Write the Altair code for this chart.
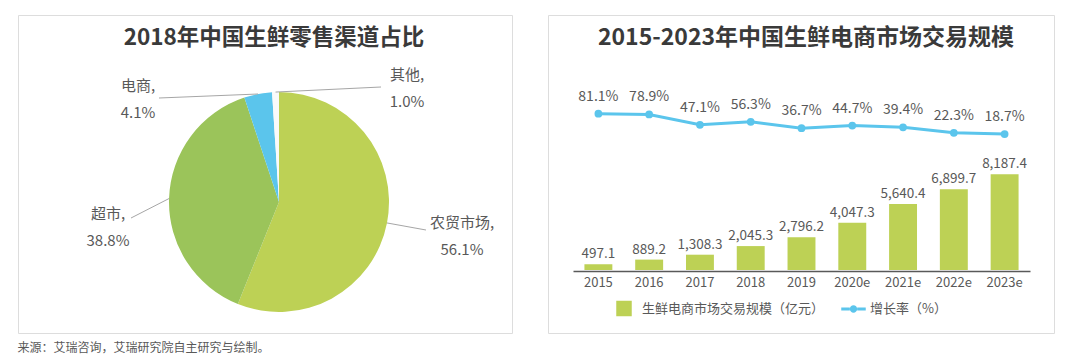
import math
import altair as alt
import pandas as pd

# ---------------- data ----------------
channels = ["农贸市场", "超市", "电商", "其他"]
shares = [56.1, 38.8, 4.1, 1.0]

years = ["2015", "2016", "2017", "2018", "2019", "2020e", "2021e", "2022e", "2023e"]
market_size = [497.1, 889.2, 1308.3, 2045.3, 2796.2, 4047.3, 5640.4, 6899.7, 8187.4]
growth_rate = [81.1, 78.9, 47.1, 56.3, 36.7, 44.7, 39.4, 22.3, 18.7]

left_title = "2018年中国生鲜零售渠道占比"
right_title = "2015-2023年中国生鲜电商市场交易规模"
bar_name = "生鲜电商市场交易规模（亿元）"
line_name = "增长率（%）"
source_text = "来源：艾瑞咨询，艾瑞研究院自主研究与绘制。"

# ---------------- style ----------------
FONT = "Noto Sans CJK SC"
BG = "#f2f2f2"
TXT = "#595959"
TITLE_C = "#3a3a3a"
pie_colors = ["#bdd155", "#9bc45a", "#5bc5ec", "#fafafa"]
BAR_C = "#bdd155"
LINE_C = "#5bc5ec"

W1, W2, H = 494, 506, 318
PIE_CX, PIE_CY, PIE_R = 261, 187, 110

# label anchor (center x, first-line y) and leader end point, panel coords
label_anchor = {
    "农贸市场": (444, 208, 408, 215),
    "超市": (90, 199, 113, 203),
    "电商": (120, 71, 141, 83),
    "其他": (389, 60, 363, 72),
}
LINE_GAP = 27

# ---------------- left panel: pie ----------------
pie_df = pd.DataFrame({"channel": channels, "share": shares, "idx": range(len(channels))})

total = sum(shares)
lab_rows, lead_rows = [], []
cum = 0.0
for name, v in zip(channels, shares):
    mid = (cum + v / 2) / total * 2 * math.pi
    cum += v
    ex = PIE_CX + PIE_R * math.sin(mid)
    ey = PIE_CY - PIE_R * math.cos(mid)
    lx, ly, tx, ty = label_anchor[name]
    lab_rows.append({"t": f"{name},", "x": lx, "y": ly})
    lab_rows.append({"t": f"{v:.1f}%", "x": lx, "y": ly + LINE_GAP})
    lead_rows.append({"x": ex, "y": ey, "x2": tx, "y2": ty})
lab_df = pd.DataFrame(lab_rows)
lead_df = pd.DataFrame(lead_rows)

arcs = alt.Chart(pie_df).mark_arc(outerRadius=PIE_R, stroke=None).encode(
    theta=alt.Theta("share:Q", stack=True),
    order=alt.Order("idx:Q"),
    color=alt.Color("channel:N", scale=alt.Scale(domain=channels, range=pie_colors), legend=None),
    x=alt.value(PIE_CX),
    y=alt.value(PIE_CY),
)
leaders = alt.Chart(lead_df).mark_rule(color="#a6a6a6", strokeWidth=1).encode(
    x=alt.X("x:Q", scale=None, axis=None),
    y=alt.Y("y:Q", scale=None, axis=None),
    x2="x2:Q",
    y2="y2:Q",
)
pie_labels = alt.Chart(lab_df).mark_text(
    font=FONT, fontSize=15, color=TXT, align="center", baseline="middle"
).encode(
    x=alt.X("x:Q", scale=None, axis=None),
    y=alt.Y("y:Q", scale=None, axis=None),
    text="t:N",
)
ltitle = alt.Chart(pd.DataFrame({"t": [left_title]})).mark_text(
    font=FONT, fontSize=22.5, fontWeight="bold", color=TITLE_C, align="center", baseline="middle"
).encode(text="t:N", x=alt.value(256), y=alt.value(23))

left = alt.layer(arcs, leaders, pie_labels, ltitle).properties(width=W1, height=H)

# ---------------- right panel: bars + line ----------------
df = pd.DataFrame({"year": years, "size": market_size, "rate": growth_rate,
                   "sname": bar_name, "lname": line_name})

xenc = alt.X(
    "year:N", sort=years, title=None,
    scale=alt.Scale(range=[25, 482], paddingInner=0.45, paddingOuter=0.225),
    axis=alt.Axis(
        offset=-62, ticks=False, labelAngle=0, labelFont=FONT, labelFontSize=13,
        labelColor=TXT, labelPadding=5, domainColor="#595959", domainWidth=1.5,
    ),
)
bar_y = alt.Y("size:Q", axis=None, scale=alt.Scale(domain=[0, 15000], range=[255, 79.6]))
line_y = alt.Y("rate:Q", axis=None, scale=alt.Scale(domain=[0, 100], range=[125.1, 92.6]))

bars = alt.Chart(df).mark_bar().encode(
    x=xenc,
    y=bar_y,
    color=alt.Color(
        "sname:N", scale=alt.Scale(domain=[bar_name], range=[BAR_C]),
        legend=alt.Legend(
            title=None, orient="none", legendX=68, legendY=285.5, symbolType="square",
            symbolSize=240, symbolStrokeWidth=0, labelFont=FONT, labelFontSize=13,
            labelColor=TXT, padding=0, labelOffset=10, labelLimit=400,
        ),
    ),
)
bar_text = alt.Chart(df).mark_text(
    font=FONT, fontSize=13.5, color=TXT, baseline="middle", dy=-10
).encode(x=xenc, y=bar_y, text=alt.Text("size:Q", format=",.1f"))

line = alt.Chart(df).mark_line(color=LINE_C, strokeWidth=3).encode(x=xenc, y=line_y)
legend_path = ("M-1,-0.12 L-0.3,-0.12 L-0.3,0.12 L-1,0.12 Z "
               "M0.3,-0.12 L1,-0.12 L1,0.12 L0.3,0.12 Z "
               "M-0.3,0 A0.3,0.3 0 1,1 0.3,0 A0.3,0.3 0 1,1 -0.3,0 Z")
points = alt.Chart(df).mark_point(filled=True, size=60, opacity=1).encode(
    x=xenc,
    y=line_y,
    fill=alt.Fill(
        "lname:N", scale=alt.Scale(domain=[line_name], range=[LINE_C]),
        legend=alt.Legend(
            title=None, orient="none", legendX=293, legendY=281.5, symbolType=legend_path,
            symbolSize=600, symbolStrokeWidth=0, labelFont=FONT, labelFontSize=13,
            labelColor=TXT, padding=0, labelOffset=4, symbolOpacity=1, labelLimit=400,
        ),
    ),
)
line_text = alt.Chart(df).transform_calculate(
    lab="format(datum.rate, '.1f') + '%'"
).mark_text(font=FONT, fontSize=14, color=TXT, baseline="middle", dy=-17).encode(
    x=xenc, y=line_y, text="lab:N"
)
rtitle = alt.Chart(pd.DataFrame({"t": [right_title]})).mark_text(
    font=FONT, fontSize=23, fontWeight="bold", color=TITLE_C, align="center", baseline="middle"
).encode(text="t:N", x=alt.value(258), y=alt.value(23))

right = alt.layer(bars, bar_text, line, points, line_text, rtitle).resolve_scale(
    y="independent"
).properties(width=W2, height=H)

chart = alt.hconcat(left, right, spacing=34).resolve_scale(
    color="independent", fill="independent"
).resolve_legend(
    color="independent", fill="independent"
).properties(
    padding={"left": 9, "top": 6, "right": 0, "bottom": 0},
    title=alt.TitleParams(
        source_text, orient="bottom", anchor="start", font=FONT, fontSize=12,
        fontWeight="normal", color=TXT, offset=9,
    ),
).configure_view(fill=BG, stroke=None).configure(background="white")

chart.save("out.html", embed_options={"renderer": "svg", "actions": False})
